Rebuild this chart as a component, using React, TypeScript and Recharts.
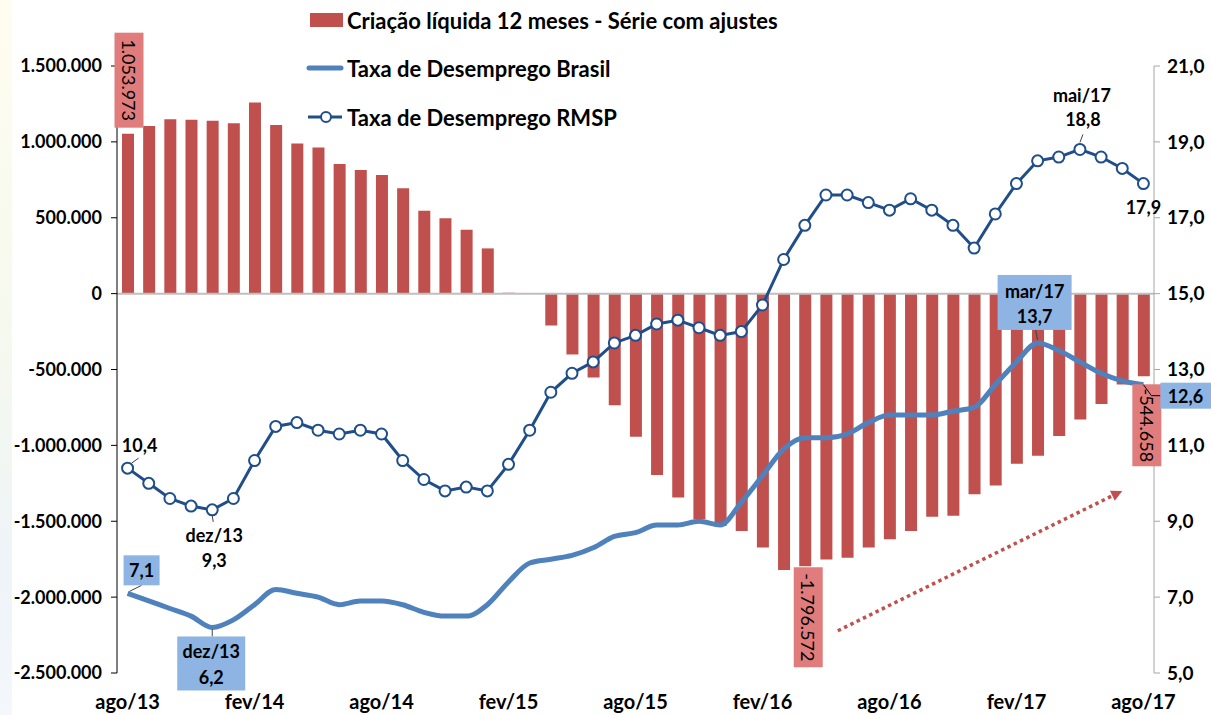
import React from 'react';
import { ComposedChart, Bar, Line, XAxis, YAxis, ReferenceLine, LabelList, Legend } from 'recharts';

const FONT = 'Lato, "Open Sans", sans-serif';

const months = [
  'ago/13', 'set/13', 'out/13', 'nov/13', 'dez/13',
  'jan/14', 'fev/14', 'mar/14', 'abr/14', 'mai/14', 'jun/14', 'jul/14', 'ago/14', 'set/14', 'out/14', 'nov/14', 'dez/14',
  'jan/15', 'fev/15', 'mar/15', 'abr/15', 'mai/15', 'jun/15', 'jul/15', 'ago/15', 'set/15', 'out/15', 'nov/15', 'dez/15',
  'jan/16', 'fev/16', 'mar/16', 'abr/16', 'mai/16', 'jun/16', 'jul/16', 'ago/16', 'set/16', 'out/16', 'nov/16', 'dez/16',
  'jan/17', 'fev/17', 'mar/17', 'abr/17', 'mai/17', 'jun/17', 'jul/17', 'ago/17',
];

// Criação líquida 12 meses (série com ajustes)
const criacaoLiquida = [
  1053973, 1105000, 1149000, 1145000, 1140000, 1123000, 1259000, 1112000, 989000, 963000,
  855000, 814000, 781000, 695000, 546000, 497000, 421000, 298000, 5000, 3000,
  -210000, -401000, -553000, -735000, -943000, -1195000, -1344000, -1487000, -1531000, -1564000,
  -1673000, -1822000, -1796572, -1752000, -1741000, -1673000, -1618000, -1564000, -1471000, -1463000,
  -1322000, -1265000, -1121000, -1068000, -939000, -829000, -728000, -599000, -544658,
];

const taxaBrasil = [
  7.1, 6.9, 6.7, 6.5, 6.2, 6.4, 6.8, 7.2, 7.1, 7.0,
  6.8, 6.9, 6.9, 6.8, 6.6, 6.5, 6.5, 6.8, 7.4, 7.9,
  8.0, 8.1, 8.3, 8.6, 8.7, 8.9, 8.9, 9.0, 8.9, 9.5,
  10.2, 10.9, 11.2, 11.2, 11.3, 11.6, 11.8, 11.8, 11.8, 11.9,
  12.0, 12.6, 13.2, 13.7, 13.5, 13.2, 12.9, 12.7, 12.6,
];

const taxaRmsp = [
  10.4, 10.0, 9.6, 9.4, 9.3, 9.6, 10.6, 11.5, 11.6, 11.4,
  11.3, 11.4, 11.3, 10.6, 10.1, 9.8, 9.9, 9.8, 10.5, 11.4,
  12.4, 12.9, 13.2, 13.7, 13.9, 14.2, 14.3, 14.1, 13.9, 14.0,
  14.7, 15.9, 16.8, 17.6, 17.6, 17.4, 17.2, 17.5, 17.2, 16.8,
  16.2, 17.1, 17.9, 18.5, 18.6, 18.8, 18.6, 18.3, 17.9,
];

const leftTicks = [-2500000, -2000000, -1500000, -1000000, -500000, 0, 500000, 1000000, 1500000];
const rightTicks = [5, 7, 9, 11, 13, 15, 17, 19, 21];

const seriesNames = [
  'Criação líquida 12 meses - Série com ajustes',
  'Taxa de Desemprego Brasil',
  'Taxa de Desemprego RMSP',
];

// which points get callouts
const barLabelIdx = [0, 32, 48];
const brasilLabelIdx = [0, 4, 43, 48];
const rmspLabelIdx = [0, 4, 45, 48];

// trend arrow (annotation)
const trendArrow = [
  { x: 'mai/16', y: -2260000 },
  { x: 'jul/17', y: -1300000 },
];

const RED = '#C0504D';
const PINK_BOX = '#E07C7C';
const BLUE = '#4F81BD';
const BLUE_BOX = '#8DB4E2';
const NAVY = '#1F4E8A';

const data = months.map((m, i) => ({
  month: m,
  criacao: criacaoLiquida[i],
  brasil: taxaBrasil[i],
  rmsp: taxaRmsp[i],
}));

const fmtThousands = (v: number) =>
  (v < 0 ? '-' : '') + String(Math.abs(Math.round(v))).replace(/\B(?=(\d{3})+(?!\d))/g, '.');
const fmtRate = (v: number) => v.toFixed(1).replace('.', ',');

const txt = { fontFamily: FONT, fontSize: 18, fontWeight: 700, fill: '#000' };

function pt(p: any) {
  const vb = p.viewBox || {};
  return {
    x: p.x ?? vb.x,
    y: p.y ?? vb.y,
    w: p.width ?? vb.width ?? 0,
    h: p.height ?? vb.height ?? 0,
  };
}

function BarLabel(p: any) {
  const i = p.index;
  if (!barLabelIdx.includes(i)) return null;
  const { x, y, w, h } = pt(p);
  const v = criacaoLiquida[i];
  const cx = x + w / 2 + (v < 0 ? 3 : 1);
  const end = v >= 0 ? Math.min(y, y + h) : Math.max(y, y + h);
  const boxH = i === 0 ? 95 : i === 32 ? 100 : 82;
  const by = v >= 0 ? end - 6 - boxH : end + (i === 48 ? 8 : 1);
  return (
    <g>
      <rect x={cx - 14.5} y={by} width={29} height={boxH} fill={PINK_BOX} />
      <text
        transform={`translate(${cx} ${by + boxH / 2}) rotate(90)`}
        textAnchor="middle"
        dominantBaseline="central"
        fontFamily={FONT}
        fontSize={18}
        fill="#000"
      >
        {fmtThousands(v)}
      </text>
    </g>
  );
}

function BrasilLabel(p: any) {
  const i = p.index;
  if (!brasilLabelIdx.includes(i)) return null;
  const { x, y } = pt(p);
  const v = fmtRate(taxaBrasil[i]);
  const m = months[i];
  if (i === 0) {
    return (
      <g>
        <line x1={x + 2} y1={y - 2} x2={x + 14} y2={y - 8} stroke="#404040" strokeWidth={1} />
        <rect x={x - 4} y={y - 38} width={36} height={30} fill={BLUE_BOX} />
        <text x={x + 14} y={y - 23} textAnchor="middle" dominantBaseline="central" {...txt}>{v}</text>
      </g>
    );
  }
  if (i === 4) {
    return (
      <g>
        <line x1={x} y1={y + 2} x2={x} y2={y + 9} stroke="#404040" strokeWidth={1} />
        <rect x={x - 35} y={y + 9} width={68} height={54} fill={BLUE_BOX} />
        <text x={x - 1} y={y + 24} textAnchor="middle" dominantBaseline="central" {...txt}>{m}</text>
        <text x={x - 1} y={y + 50} textAnchor="middle" dominantBaseline="central" {...txt}>{v}</text>
      </g>
    );
  }
  if (i === 43) {
    return (
      <g>
        <line x1={x} y1={y - 3} x2={x - 2} y2={y - 13} stroke="#404040" strokeWidth={1} />
        <rect x={x - 40} y={y - 68} width={74} height={55} fill={BLUE_BOX} />
        <text x={x - 3} y={y - 52} textAnchor="middle" dominantBaseline="central" {...txt}>{m}</text>
        <text x={x - 3} y={y - 27} textAnchor="middle" dominantBaseline="central" {...txt}>{v}</text>
      </g>
    );
  }
  return (
    <g>
      <polyline points={`${x},${y} ${x + 8},${y + 11} ${x + 17},${y + 11}`} fill="none" stroke="#000" strokeWidth={1} />
      <rect x={x + 17} y={y - 2} width={51} height={26} fill={BLUE_BOX} />
      <text x={x + 42} y={y + 11} textAnchor="middle" dominantBaseline="central" {...txt}>{v}</text>
    </g>
  );
}

function RmspLabel(p: any) {
  const i = p.index;
  if (!rmspLabelIdx.includes(i)) return null;
  const { x, y } = pt(p);
  const v = fmtRate(taxaRmsp[i]);
  const m = months[i];
  if (i === 0) {
    return (
      <g>
        <line x1={x + 4} y1={y - 5} x2={x + 11} y2={y - 10} stroke="#404040" strokeWidth={1} />
        <text x={x + 12} y={y - 23} textAnchor="middle" dominantBaseline="central" {...txt}>{v}</text>
      </g>
    );
  }
  if (i === 4) {
    return (
      <g>
        <line x1={x} y1={y + 6} x2={x + 1} y2={y + 12} stroke="#404040" strokeWidth={1} />
        <text x={x + 2} y={y + 25} textAnchor="middle" dominantBaseline="central" {...txt}>{m}</text>
        <text x={x + 2} y={y + 50} textAnchor="middle" dominantBaseline="central" {...txt}>{v}</text>
      </g>
    );
  }
  if (i === 45) {
    return (
      <g>
        <line x1={x} y1={y - 7} x2={x + 3} y2={y - 15} stroke="#404040" strokeWidth={1} />
        <text x={x + 2} y={y - 54} textAnchor="middle" dominantBaseline="central" {...txt}>{m}</text>
        <text x={x + 3} y={y - 30} textAnchor="middle" dominantBaseline="central" {...txt}>{v}</text>
      </g>
    );
  }
  return (
    <text x={x} y={y + 23} textAnchor="middle" dominantBaseline="central" {...txt}>{v}</text>
  );
}

function ArrowShape(p: any) {
  const { x1, y1, x2, y2 } = p;
  const dx = x2 - x1;
  const dy = y2 - y1;
  const len = Math.sqrt(dx * dx + dy * dy);
  const ux = dx / len;
  const uy = dy / len;
  const sx = x1 + dx * 0.04;
  const sy = y1 + dy * 0.04;
  const bx = x2 - ux * 11;
  const by = y2 - uy * 11;
  return (
    <g>
      <line x1={sx} y1={sy} x2={bx} y2={by} stroke={RED} strokeWidth={3.5} strokeDasharray="3.5 3.5" />
      <polygon
        points={`${x2},${y2} ${bx - uy * 5.5},${by + ux * 5.5} ${bx + uy * 5.5},${by - ux * 5.5}`}
        fill={RED}
      />
    </g>
  );
}

function LegendBox() {
  const ts = { fontFamily: FONT, fontSize: 22, fontWeight: 700, fill: '#000' };
  return (
    <svg width={540} height={135}>
      <rect x={10} y={13} width={33} height={14} fill={RED} />
      <text x={47} y={20} dominantBaseline="central" {...ts}>{seriesNames[0]}</text>
      <line x1={9} y1={68} x2={41} y2={68} stroke={BLUE} strokeWidth={5} strokeLinecap="round" />
      <text x={47} y={68} dominantBaseline="central" {...ts}>{seriesNames[1]}</text>
      <line x1={8} y1={117} x2={42} y2={117} stroke={NAVY} strokeWidth={3} />
      <circle cx={26} cy={117} r={5} fill="#fff" stroke={NAVY} strokeWidth={2} />
      <text x={47} y={117} dominantBaseline="central" {...ts}>{seriesNames[2]}</text>
    </svg>
  );
}

const leftTick = { fontFamily: FONT, fontSize: 18, fontWeight: 700, fill: '#000' };
const rightTick = { fontFamily: FONT, fontSize: 19, fontWeight: 700, fill: '#000' };
const bottomTick = { fontFamily: FONT, fontSize: 20, fontWeight: 700, fill: '#000' };

export default function App() {
  return (
    <div style={{ position: 'absolute', left: 0, top: 0, width: 1211, height: 715, background: '#fff' }}>
      <div
        style={{
          position: 'absolute', left: 0, top: 0, width: 12, height: 715,
          background: 'linear-gradient(to bottom, #FFFDF0, #F6F9EE 45%, #EEF4F8 80%, #F4F7FB)',
        }}
      />
      <ComposedChart width={1211} height={715} data={data} margin={{ top: 66, right: 0, bottom: 0, left: 0 }}>
        <XAxis
          dataKey="month"
          interval={5}
          axisLine={false}
          tickLine={false}
          height={42}
          tickSize={6}
          tickMargin={16}
          tick={bottomTick}
        />
        <YAxis
          yAxisId="left"
          domain={[-2500000, 1500000]}
          ticks={leftTicks}
          interval={0}
          tickFormatter={fmtThousands}
          width={117}
          axisLine={{ stroke: '#000', strokeWidth: 1 }}
          tickLine={{ stroke: '#000' }}
          tickSize={6}
          tickMargin={9}
          tick={leftTick}
        />
        <YAxis
          yAxisId="right"
          orientation="right"
          domain={[5, 21]}
          ticks={rightTicks}
          interval={0}
          tickFormatter={fmtRate}
          width={57}
          axisLine={{ stroke: '#A6A6A6', strokeWidth: 1 }}
          tickLine={{ stroke: '#A6A6A6' }}
          tickSize={6}
          tickMargin={7}
          tick={rightTick}
        />
        <ReferenceLine yAxisId="left" y={0} stroke="#BFBFBF" strokeWidth={2} />
        <Bar yAxisId="left" dataKey="criacao" name={seriesNames[0]} fill={RED} barSize={12} isAnimationActive={false}>
          <LabelList dataKey="criacao" content={BarLabel} />
        </Bar>
        <Line
          yAxisId="right"
          type="monotone"
          dataKey="brasil"
          name={seriesNames[1]}
          stroke={BLUE}
          strokeWidth={5}
          dot={false}
          activeDot={false}
          isAnimationActive={false}
        >
          <LabelList dataKey="brasil" content={BrasilLabel} />
        </Line>
        <Line
          yAxisId="right"
          type="linear"
          dataKey="rmsp"
          name={seriesNames[2]}
          stroke={NAVY}
          strokeWidth={3}
          dot={{ r: 5.5, fill: '#fff', stroke: NAVY, strokeWidth: 2 }}
          activeDot={false}
          isAnimationActive={false}
        >
          <LabelList dataKey="rmsp" content={RmspLabel} />
        </Line>
        <ReferenceLine yAxisId="left" segment={trendArrow} shape={ArrowShape} />
        <Legend
          content={LegendBox}
          layout="vertical"
          verticalAlign="middle"
          align="center"
          wrapperStyle={{ left: 300, top: 0, width: 540, height: 135 }}
        />
      </ComposedChart>
    </div>
  );
}
